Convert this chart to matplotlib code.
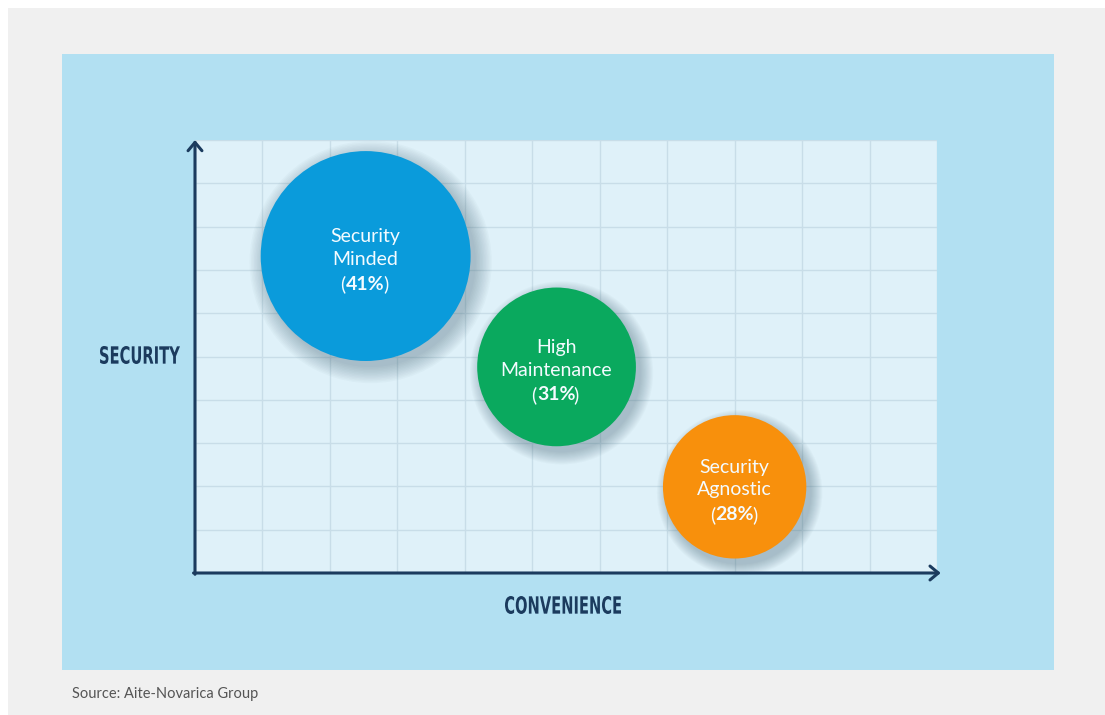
import matplotlib
matplotlib.use('Agg')
import matplotlib.pyplot as plt
from matplotlib.patches import Rectangle, PathPatch
from matplotlib.textpath import TextPath
from matplotlib.font_manager import FontProperties
from matplotlib.transforms import ScaledTranslation, Affine2D

# Datos del gráfico
segments = ['Security\nMinded', 'High\nMaintenance', 'Security\nAgnostic']
shares = [41, 31, 28]
convenience = [2.53, 5.36, 8.0]
security = [7.32, 4.76, 1.99]
colors = ['#0a9bdb', '#0aa95e', '#f8900c']

W, H = 1105, 715
fig = plt.figure(figsize=(W / 100, H / 100), dpi=100, facecolor='white')

def fx(px):
    return px / W

def fy(py):
    return 1 - py / H

# Fondo gris y panel azul
fig.patches.append(Rectangle((fx(8), 0), 1 - fx(8), fy(8), transform=fig.transFigure,
                             facecolor='#f0f0f0', edgecolor='none', zorder=-2))
fig.patches.append(Rectangle((fx(62), fy(670)), fx(1054 - 62), (670 - 54) / H,
                             transform=fig.transFigure, facecolor='#b2e0f2',
                             edgecolor='none', zorder=-1))

# Zona de la cuadrícula
ax = fig.add_axes([fx(195), fy(573), fx(937 - 195), (573 - 140) / H])
ax.set_facecolor('#dff1f9')
ax.set_xlim(0, 11)
ax.set_ylim(0, 10)
ax.set_xticks(range(12))
ax.set_yticks(range(11))
ax.grid(True, color='#c8dde8', linewidth=1)
ax.set_axisbelow(True)
ax.tick_params(length=0, labelbottom=False, labelleft=False)
for s in ax.spines.values():
    s.set_visible(False)

# Ejes con flechas
navy = '#1b3b5e'
arrow = dict(arrowstyle='->,head_length=0.6,head_width=0.5', color=navy, lw=2.2,
             shrinkA=0, shrinkB=0)
ax.annotate('', xy=(0, 1.0), xytext=(0, -0.003), xycoords='axes fraction', arrowprops=arrow,
            annotation_clip=False)
ax.annotate('', xy=(1.005, 0), xytext=(-0.002, 0), xycoords='axes fraction',
            arrowprops=arrow, annotation_clip=False)

# Burbujas: radio proporcional al porcentaje
radius_px = [2.56 * v for v in shares]
sizes = [(2 * r * 0.72) ** 2 for r in radius_px]

# Sombra difusa
for i in range(12):
    grow = 1 + 0.014 * i
    shift = ScaledTranslation(0.05, -0.06, fig.dpi_scale_trans)
    ax.scatter(convenience, security, s=[z * grow ** 2 for z in sizes], color='#3d5f70',
               alpha=0.03, linewidths=0, transform=ax.transData + shift, zorder=3,
               clip_on=False)

ax.scatter(convenience, security, s=sizes, c=colors, linewidths=0, zorder=5, clip_on=False)

# Textos de las burbujas
fig.canvas.draw()
renderer = fig.canvas.get_renderer()
font = 'Lato'
fs = 14
txt_color = '#f4fbff'
for x, y, name, pct in zip(convenience, security, segments, shares):
    ax.text(x, y, name, transform=ax.transData + ScaledTranslation(0, 0.08, fig.dpi_scale_trans),
            ha='center', va='center', color=txt_color, fontsize=fs, family=font,
            linespacing=1.38, zorder=6)
    num_tr = ax.transData + ScaledTranslation(0, -0.28, fig.dpi_scale_trans)
    t = ax.text(x, y, f'{pct}%', transform=num_tr, ha='center', va='center', color=txt_color,
                fontsize=fs, family=font, fontweight='bold', zorder=6)
    bb = t.get_window_extent(renderer)
    half = bb.width / 2 / 100
    ax.text(x, y, '(', transform=num_tr + ScaledTranslation(-half - 0.005, 0, fig.dpi_scale_trans),
            ha='right', va='center', color=txt_color, fontsize=fs, family=font, zorder=6)
    ax.text(x, y, ')', transform=num_tr + ScaledTranslation(half - 0.02, 0, fig.dpi_scale_trans),
            ha='left', va='center', color=txt_color, fontsize=fs, family=font, zorder=6)

# Etiquetas de los ejes (letra estrecha: se comprime el trazo del texto)
def narrow_label(text, cx, cy, width_px, cap_px):
    tp = TextPath((0, 0), text, size=100, prop=FontProperties(family='DejaVu Sans', weight='bold'))
    ext = tp.get_extents()
    sx = width_px / ext.width
    sy = cap_px / ext.height
    tr = (Affine2D().translate(-ext.x0 - ext.width / 2, -ext.y0 - ext.height / 2)
          .scale(sx / W, sy / H).translate(fx(cx), fy(cy)) + fig.transFigure)
    fig.patches.append(PathPatch(tp, transform=tr, facecolor=navy, edgecolor='none', zorder=2))

narrow_label('SECURITY', 140, 355, 80, 18)
narrow_label('CONVENIENCE', 563, 605, 116, 18)

# Fuente
fig.text(fx(72), fy(694), 'Source: Aite-Novarica Group', ha='left', va='center',
         color='#555555', fontsize=10.5, family='Lato')

fig.savefig('out.png', dpi=100, facecolor=fig.get_facecolor())
